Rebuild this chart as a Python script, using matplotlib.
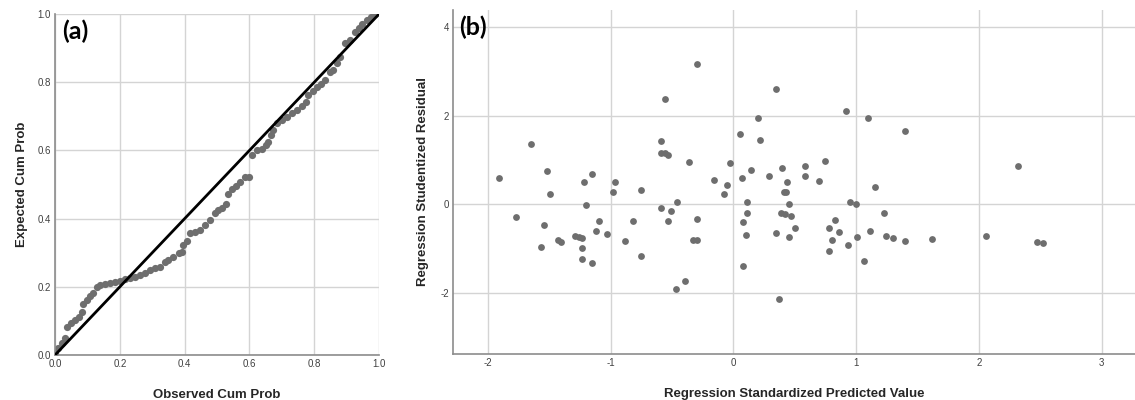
import numpy as np
import matplotlib.pyplot as plt

plt.rcParams['font.family'] = ['Liberation Sans', 'DejaVu Sans']
plt.rcParams['axes.unicode_minus'] = False

# (a) P-P plot: observed vs expected cumulative probability
observed_cum = [0.0, 0.01, 0.02, 0.031, 0.038, 0.048, 0.062, 0.075, 0.082, 0.087,
                0.098, 0.108, 0.118, 0.129, 0.139, 0.154, 0.17, 0.185, 0.2, 0.216,
                0.231, 0.247, 0.262, 0.278, 0.293, 0.309, 0.324, 0.34, 0.35, 0.365,
                0.381, 0.391, 0.396, 0.406, 0.417, 0.432, 0.448, 0.463, 0.478, 0.494,
                0.504, 0.514, 0.527, 0.535, 0.545, 0.559, 0.571, 0.586, 0.597, 0.607,
                0.622, 0.638, 0.651, 0.658, 0.666, 0.674, 0.684, 0.7, 0.715, 0.731,
                0.746, 0.761, 0.775, 0.782, 0.797, 0.808, 0.82, 0.833, 0.849, 0.857,
                0.869, 0.88, 0.895, 0.91, 0.926, 0.939, 0.947, 0.962, 0.974, 0.988]
expected_cum = [0.005, 0.02, 0.034, 0.049, 0.083, 0.095, 0.103, 0.112, 0.127, 0.151,
                0.161, 0.173, 0.183, 0.2, 0.205, 0.208, 0.212, 0.215, 0.218, 0.222,
                0.225, 0.23, 0.235, 0.241, 0.249, 0.256, 0.259, 0.274, 0.279, 0.286,
                0.298, 0.303, 0.323, 0.335, 0.357, 0.362, 0.368, 0.381, 0.396, 0.415,
                0.425, 0.43, 0.443, 0.472, 0.486, 0.496, 0.508, 0.521, 0.523, 0.587,
                0.6, 0.605, 0.616, 0.626, 0.645, 0.66, 0.679, 0.689, 0.699, 0.709,
                0.718, 0.73, 0.743, 0.762, 0.775, 0.785, 0.796, 0.806, 0.831, 0.836,
                0.855, 0.875, 0.914, 0.924, 0.948, 0.958, 0.972, 0.982, 0.992, 1.0]
pp_ticks = [0.0, 0.2, 0.4, 0.6, 0.8, 1.0]

# (b) residuals vs predicted
pred = [-1.91, -1.77, -1.65, -1.57, -1.54, -1.52, -1.49, -1.43, -1.40, -1.29,
        -1.26, -1.23, -1.23, -1.23, -1.22, -1.20, -1.15, -1.15, -1.12, -1.09,
        -1.03, -0.98, -0.96, -0.88, -0.82, -0.75, -0.75, -0.59, -0.59, -0.56,
        -0.53, -0.59, -0.56, -0.53, -0.51, -0.47, -0.46, -0.39, -0.36, -0.33,
        -0.30, -0.30, -0.30, -0.16, -0.08, -0.05, -0.03, 0.05, 0.07, 0.08,
        0.08, 0.10, 0.11, 0.11, 0.14, 0.20, 0.22, 0.29, 0.35, 0.35,
        0.37, 0.39, 0.40, 0.41, 0.43, 0.44, 0.45, 0.42, 0.47, 0.45,
        0.50, 0.58, 0.58, 0.70, 0.75, 0.92, 1.10, 1.40, 1.15, 0.95,
        1.00, 1.23, 0.83, 0.78, 0.86, 0.80, 0.78, 0.93, 1.01, 1.11,
        1.06, 1.24, 1.30, 1.40, 1.62, 2.06, 2.32, 2.47, 2.52]
resid = [0.60, -0.29, 1.37, -0.96, -0.48, 0.75, 0.23, -0.82, -0.85, -0.71,
         -0.74, -0.77, -1.00, -1.25, 0.50, -0.03, 0.68, -1.33, -0.60, -0.38,
         -0.68, 0.27, 0.50, -0.83, -0.38, 0.32, -1.18, 1.42, 1.16, 1.15,
         1.12, -0.08, 2.37, -0.38, -0.15, -1.92, 0.05, -1.73, 0.96, -0.81,
         -0.81, -0.33, 3.17, 0.54, 0.23, 0.44, 0.93, 1.59, 0.59, -0.41,
         -1.40, -0.69, 0.05, -0.20, 0.78, 1.95, 1.45, 0.64, 2.61, -0.66,
         -2.15, -0.19, 0.82, 0.27, 0.27, 0.50, 0.00, -0.22, -0.27, -0.75,
         -0.54, 0.87, 0.63, 0.53, 0.98, 2.11, 1.94, 1.65, 0.38, 0.05,
         0.01, -0.19, -0.35, -0.54, -0.62, -0.81, -1.05, -0.93, -0.75, -0.61,
         -1.29, -0.72, -0.77, -0.84, -0.79, -0.71, 0.86, -0.85, -0.88]
xticks_b = [-2, -1, 0, 1, 2, 3]
yticks_b = [-2, 0, 2, 4]

dot_color = '#6e6e6e'
grid_color = '#d4d4d4'
spine_color = '#8c8c8c'
tick_color = '#404040'

fig = plt.figure(figsize=(11.35, 4), dpi=100)
ax1 = fig.add_axes([0.0485, 0.1125, 0.2855, 0.8525])
ax2 = fig.add_axes([0.3994, 0.115, 0.6006, 0.86])

def style(ax):
    ax.set_axisbelow(True)
    ax.grid(True, color=grid_color, lw=1.0)
    for s in ['top', 'right']:
        ax.spines[s].set_visible(False)
    for s in ['left', 'bottom']:
        ax.spines[s].set_color(spine_color)
        ax.spines[s].set_linewidth(1.2)
    ax.tick_params(length=0, labelsize=7, colors=tick_color, pad=3)

# panel (a)
ax1.scatter(observed_cum, expected_cum, s=27, color=dot_color, lw=0, zorder=2)
ax1.plot([0, 1], [0, 1], color='black', lw=2, zorder=3)
ax1.set_xlim(0, 1)
ax1.set_ylim(0, 1)
ax1.set_xticks(pp_ticks)
ax1.set_yticks(pp_ticks)
ax1.set_xticklabels(['%.1f' % t for t in pp_ticks])
ax1.set_yticklabels(['%.1f' % t for t in pp_ticks])
style(ax1)
ax1.set_xlabel('Observed Cum Prob', fontsize=9.5, fontweight='bold', color='#262626', labelpad=14)
ax1.set_ylabel('Expected Cum Prob', fontsize=9.5, fontweight='bold', color='#262626', labelpad=7)
ax1.text(0.022, 0.985, '(a)', transform=ax1.transAxes, fontsize=18, fontweight='bold',
         family='Lato', va='top', ha='left')

# panel (b)
ax2.scatter(pred, resid, s=24, color=dot_color, lw=0, zorder=2)
ax2.set_xlim(-2.28, 3.27)
ax2.set_ylim(-3.39, 4.39)
ax2.set_xticks(xticks_b)
ax2.set_yticks(yticks_b)
style(ax2)
ax2.set_xlabel('Regression Standardized Predicted Value', fontsize=9.5, fontweight='bold',
               color='#262626', labelpad=14)
ax2.set_ylabel('Regression Studentized Residual', fontsize=9.5, fontweight='bold',
               color='#262626', labelpad=8)
ax2.text(0.008, 0.985, '(b)', transform=ax2.transAxes, fontsize=18, fontweight='bold',
         family='Lato', va='top', ha='left')

fig.savefig('out.png', dpi=100)
